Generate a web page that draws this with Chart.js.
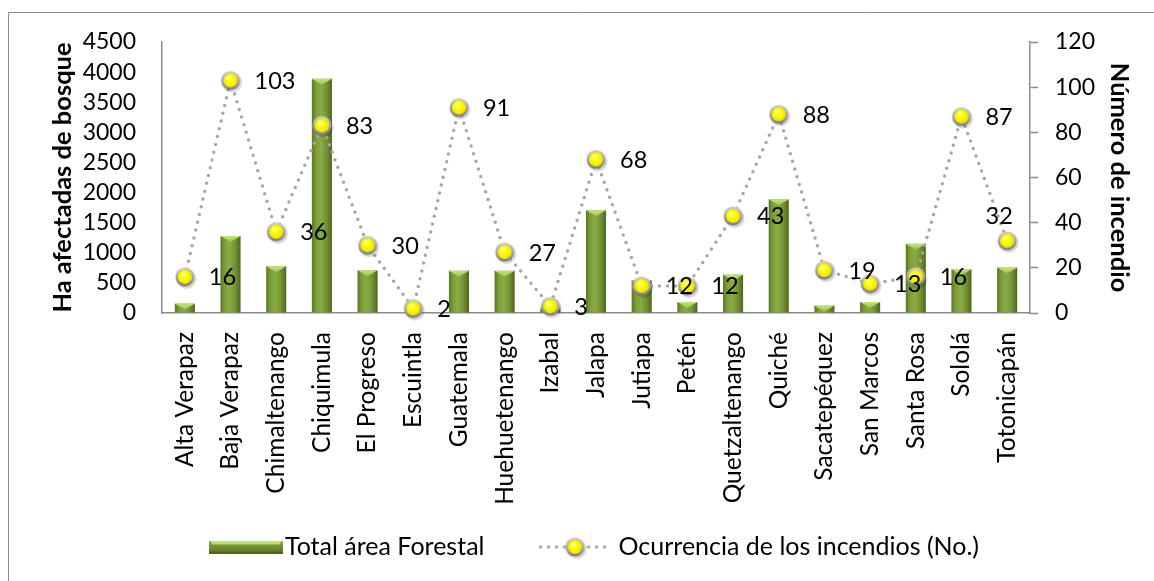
<!DOCTYPE html>
<html><head><meta charset="utf-8">
<script src="https://cdn.jsdelivr.net/npm/chart.js@4.4.1/dist/chart.umd.min.js"></script>
<style>html,body{margin:0;padding:0;background:#fff;}#wrap{position:relative;width:1154px;height:581px;}canvas{display:block;}</style>
</head><body><div id="wrap"><canvas id="c" width="1154" height="581"></canvas></div>
<script>
const categories = ['Alta Verapaz','Baja Verapaz','Chimaltenango','Chiquimula','El Progreso','Escuintla','Guatemala','Huehuetenango','Izabal','Jalapa','Jutiapa','Petén','Quetzaltenango','Quiché','Sacatepéquez','San Marcos','Santa Rosa','Sololá','Totonicapán'];
const forestArea = [156, 1280, 775, 3890, 710, 0, 700, 700, 80, 1705, 545, 183, 637, 1887, 123, 183, 1150, 725, 754];
const fireCount = [16, 103, 36, 83, 30, 2, 91, 27, 3, 68, 12, 12, 43, 88, 19, 13, 16, 87, 32];
const areaLabel = 'Total área Forestal';
const fireLabel = 'Ocurrencia de los incendios (No.)';
const leftTitle = 'Ha afectadas de bosque';
const rightTitle = 'Número de incendio';
const leftTicks = {min: 0, max: 4500, step: 500};
const rightTicks = {min: 0, max: 120, step: 20};

const FONT = 'Lato';
const AXIS = '#8c8c8c';

function makeMarker() {
  const s = 28, c = document.createElement('canvas'); c.width = s; c.height = s;
  const g = c.getContext('2d'); const cx = 14, cy = 14;
  g.fillStyle = 'rgba(0,0,0,0.16)'; g.beginPath(); g.arc(cx + 1.5, cy + 2, 10, 0, 2 * Math.PI); g.fill();
  const rg = g.createLinearGradient(0, cy - 9.5, 0, cy + 9.5);
  rg.addColorStop(0, '#d0d0d0'); rg.addColorStop(1, '#7a7a7a');
  g.fillStyle = rg; g.beginPath(); g.arc(cx, cy, 9.5, 0, 2 * Math.PI); g.fill();
  const yg = g.createRadialGradient(cx - 2, cy - 3, 0.5, cx, cy, 7.5);
  yg.addColorStop(0, '#ffffb0'); yg.addColorStop(0.35, '#ffff10'); yg.addColorStop(0.85, '#f2ea00'); yg.addColorStop(1, '#d8c800');
  g.fillStyle = yg; g.beginPath(); g.arc(cx, cy, 7.2, 0, 2 * Math.PI); g.fill();
  return c;
}
const marker = makeMarker();

function makeBarSwatch() {
  const w = 74, h = 13, c = document.createElement('canvas'); c.width = w; c.height = h;
  const g = c.getContext('2d');
  const gr = g.createLinearGradient(0, 0, 0, h);
  gr.addColorStop(0, '#8aac46'); gr.addColorStop(1, '#5a7426');
  g.fillStyle = gr; g.fillRect(0, 0, w, h);
  g.fillStyle = '#bde070';
  g.beginPath(); g.moveTo(0, 0); g.lineTo(w, 0); g.lineTo(w - 4, 4); g.lineTo(4, 4); g.closePath(); g.fill();
  g.fillStyle = '#4f661f'; g.fillRect(0, h - 2, w, 2);
  return c;
}
function makeLineSwatch() {
  const w = 75, h = 28, c = document.createElement('canvas'); c.width = w; c.height = h;
  const g = c.getContext('2d');
  g.strokeStyle = '#a6a6a6'; g.lineWidth = 3.5; g.lineCap = 'round'; g.setLineDash([0, 8]);
  g.beginPath(); g.moveTo(3, h / 2); g.lineTo(w - 2, h / 2); g.stroke();
  g.drawImage(marker, w / 2 - 14, h / 2 - 14);
  return c;
}
const barSwatch = makeBarSwatch();
const lineSwatch = makeLineSwatch();

function barFill(ctx) {
  const chart = ctx.chart;
  const xs = chart.scales && chart.scales.x;
  if (!xs || !chart.chartArea || ctx.dataIndex === undefined) return '#77933c';
  const x = xs.getPixelForValue(ctx.dataIndex);
  const g = chart.ctx.createLinearGradient(x - 10, 0, x + 10, 0);
  g.addColorStop(0, '#5a7824'); g.addColorStop(0.2, '#7c9c38'); g.addColorStop(0.45, '#8aac45');
  g.addColorStop(0.75, '#738f34'); g.addColorStop(1, '#4d661e');
  return g;
}

const framePlugin = {
  id: 'frame',
  beforeDraw(chart) {
    const c = chart.ctx; c.save();
    c.fillStyle = '#fff'; c.fillRect(0, 0, chart.width, chart.height);
    c.strokeStyle = '#8a8a8a'; c.lineWidth = 1;
    c.beginPath(); c.moveTo(8.5, chart.height); c.lineTo(8.5, 12.5); c.lineTo(chart.width, 12.5); c.stroke();
    c.restore();
  }
};

const bevelPlugin = {
  id: 'bevel',
  afterDatasetDraw(chart, args) {
    if (args.index !== 0) return;
    const c = chart.ctx; c.save();
    args.meta.data.forEach(el => {
      const h = el.base - el.y; if (h < 2) return;
      const w = el.width, l = el.x - w / 2, r = el.x + w / 2;
      const d = Math.min(6, h);
      const g = c.createLinearGradient(0, el.y, 0, el.y + d);
      g.addColorStop(0, '#c4e47c'); g.addColorStop(1, '#9cc24e');
      c.fillStyle = g;
      c.beginPath(); c.moveTo(l, el.y); c.lineTo(r, el.y); c.lineTo(el.x, el.y + d); c.closePath(); c.fill();
    });
    c.restore();
  }
};

const labelPlugin = {
  id: 'pointLabels',
  afterDatasetsDraw(chart) {
    const meta = chart.getDatasetMeta(1);
    const data = chart.data.datasets[1].data;
    const c = chart.ctx; c.save();
    c.font = '23.5px ' + FONT; c.fillStyle = '#000'; c.textBaseline = 'middle';
    meta.data.forEach((pt, i) => {
      const txt = String(data[i]);
      const w = c.measureText(txt).width;
      if (pt.x + 24 + w > chart.chartArea.right - 4) {
        c.textAlign = 'center'; c.fillText(txt, pt.x - 8, pt.y - 24);
      } else {
        c.textAlign = 'left'; c.fillText(txt, pt.x + 24, pt.y + 1);
      }
    });
    c.restore();
  }
};

const legendPlugin = {
  id: 'customLegend',
  afterDraw(chart) {
    const c = chart.ctx; c.save();
    c.font = '25px ' + FONT; c.fillStyle = '#000'; c.textBaseline = 'middle'; c.textAlign = 'left';
    const items = [
      {img: barSwatch, text: chart.data.datasets[0].label, gap: 2},
      {img: lineSwatch, text: chart.data.datasets[1].label, gap: 6}
    ];
    const spacing = 53;
    let total = 0;
    items.forEach((it, i) => { it.tw = c.measureText(it.text).width; total += it.img.width + it.gap + it.tw + (i ? spacing : 0); });
    let x = chart.width / 2 + 17 - total / 2;
    const cy = 547;
    items.forEach(it => {
      c.drawImage(it.img, x, cy - it.img.height / 2);
      x += it.img.width + it.gap;
      c.fillText(it.text, x, cy);
      x += it.tw + spacing;
    });
    c.restore();
  }
};

function build() {
  const tickFont = {family: FONT, size: 23};
  const catFont = {family: FONT, size: 24.5};
  const titleFont = {family: FONT, size: 25.5, weight: 'bold'};
  new Chart(document.getElementById('c'), {
    data: {
      labels: categories,
      datasets: [
        {type: 'bar', label: areaLabel, data: forestArea, yAxisID: 'y', order: 2,
         backgroundColor: barFill, borderWidth: 0, categoryPercentage: 1, barPercentage: 0.44},
        {type: 'line', label: fireLabel, data: fireCount, yAxisID: 'y1', order: 1,
         borderColor: '#a6a6a6', borderWidth: 3.5, borderDash: [0, 8], borderCapStyle: 'round',
         pointStyle: marker, pointRadius: 9, pointHoverRadius: 9, tension: 0, clip: false, fill: false}
      ]
    },
    options: {
      responsive: false, animation: false,
      layout: {padding: {top: 42, left: 0, right: 0, bottom: 0}},
      plugins: {legend: {display: false}, tooltip: {enabled: false}},
      scales: {
        x: {
          type: 'category', offset: true,
          grid: {drawOnChartArea: false, drawTicks: false},
          border: {display: true, color: AXIS, width: 1.5},
          ticks: {font: catFont, color: '#000', minRotation: 90, maxRotation: 90, autoSkip: false, padding: 19},
          afterFit(s) { s.height = 268; }
        },
        y: {
          position: 'left', min: leftTicks.min, max: leftTicks.max,
          ticks: {stepSize: leftTicks.step, autoSkip: false, font: tickFont, color: '#000', padding: 26,
                  callback: v => String(v)},
          grid: {drawOnChartArea: false, drawTicks: false},
          border: {display: true, color: AXIS, width: 1.5},
          title: {display: true, text: leftTitle, color: '#000', font: titleFont, padding: {top: 47, bottom: 0}},
          afterFit(s) { s.width = 162; }
        },
        y1: {
          position: 'right', min: rightTicks.min, max: rightTicks.max,
          ticks: {stepSize: rightTicks.step, autoSkip: false, font: tickFont, color: '#000', padding: 17,
                  callback: v => String(v)},
          grid: {drawOnChartArea: false, drawTicks: true, tickLength: 8, tickColor: AXIS, tickWidth: 1.5},
          border: {display: true, color: AXIS, width: 1.5},
          title: {display: true, text: rightTitle, color: '#000', font: titleFont, padding: {top: 19, bottom: 0}},
          afterFit(s) { s.width = 124; }
        }
      }
    },
    plugins: [framePlugin, bevelPlugin, labelPlugin, legendPlugin]
  });
}
if (document.fonts && document.fonts.load) {
  Promise.all([document.fonts.load('23px Lato'), document.fonts.load('bold 25px Lato')]).then(build, build);
} else { build(); }
</script>
</body></html>
